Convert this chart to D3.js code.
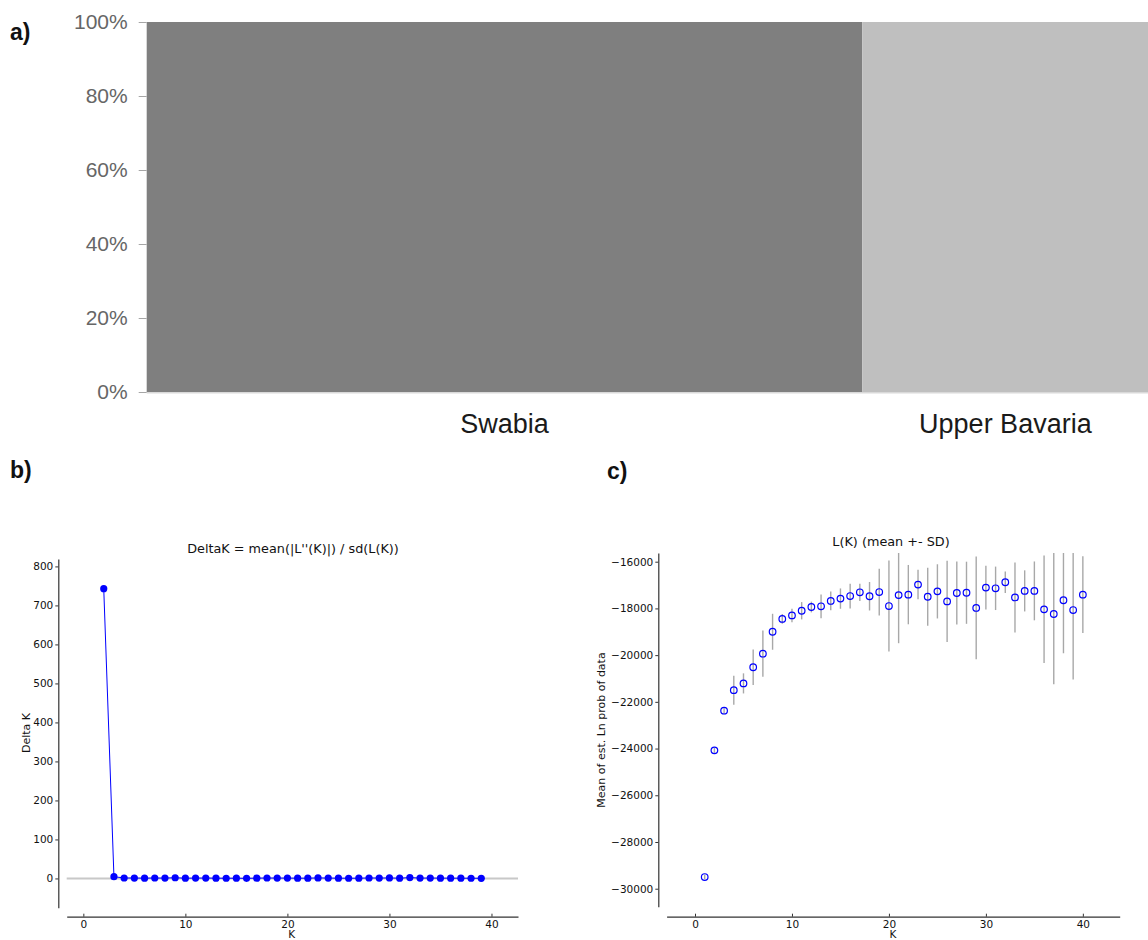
<!DOCTYPE html>
<html>
<head>
<meta charset="utf-8">
<script src="https://cdn.jsdelivr.net/npm/d3@7"></script>
<style>
  body { margin: 0; background: #fff; }
  svg { display: block; }
</style>
</head>
<body>
<div id="chart"></div>
<script>
// panel a: membership per population
const populations = ["Swabia", "Upper Bavaria"];
const sampleSizes = [50, 20];
const cluster1 = [1, 0];
const cluster2 = [0, 1];
const percentTicks = [0, 0.2, 0.4, 0.6, 0.8, 1];

// panel b: Delta K for K = 2..39
const deltaKs = d3.range(2, 40);
const deltaKValues = [743, 4.5, 1.2, 1.0, 0.8, 1.1, 0.9, 1.8, 0.6, 0.9, 1.0, 0.7, 0.5, 0.6, 0.2, 0.8, 1.1, 1.0, 0.9, 0.7,
  0.6, 1.4, 0.9, 0.7, 0.5, 0.6, 1.2, 1.0, 1.3, 0.6, 2.3, 0.9, 1.0, 0.8, 0.7, 0.6, 0.5, 0.4];

// panel c: L(K) mean and SD for K = 1..40
const lkKs = d3.range(1, 41);
const lkMeans = [-29500, -24076, -22380, -21500, -21210, -20520, -19940, -19000, -18450, -18300,
  -18100, -17940, -17910, -17680, -17580, -17470, -17310, -17480, -17300, -17900,
  -17430, -17410, -16980, -17500, -17270, -17700, -17340, -17330, -17980, -17110,
  -17140, -16880, -17530, -17250, -17250, -18040, -18240, -17650, -18070, -17410];
const lkSds = [100, 110, 150, 620, 430, 760, 990, 770, 210, 290,
  370, 230, 510, 400, 435, 530, 370, 610, 1000, 1950,
  2060, 1270, 630, 1240, 1160, 1740, 1350, 1330, 2200, 940,
  930, 460, 1500, 880, 1260, 2300, 3010, 2270, 2970, 1640];

const w = 1148;
const h = 940;
const svg = d3.select("#chart").append("svg").attr("width", w).attr("height", h);

const panelLabel = (x, y, t) =>
  svg.append("text")
    .attr("x", x).attr("y", y)
    .style("font-family", "Liberation Sans, Arial, sans-serif")
    .style("font-weight", "bold")
    .style("font-size", "23px")
    .attr("fill", "#111")
    .text(t);

panelLabel(10, 40, "a)");
panelLabel(10, 478, "b)");
panelLabel(607, 479, "c)");

// ---------- panel a ----------
const total = d3.sum(sampleSizes);
const starts = sampleSizes.map((d, i) => d3.sum(sampleSizes.slice(0, i)));
const xA = d3.scaleLinear().domain([0, total]).range([146.7, 1148.5]);
const yA = d3.scaleLinear().domain([0, 1]).range([392, 22]);
const rowsA = populations.map((p, i) => ({ pop: p, start: starts[i], n: sampleSizes[i], c1: cluster1[i], c2: cluster2[i] }));
const stackA = d3.stack().keys(["c1", "c2"])(rowsA);
const clusterColors = { c1: "#7f7f7f", c2: "#bfbfbf" };

svg.append("line")
  .attr("x1", xA(0)).attr("x2", xA(total))
  .attr("y1", yA(0) + 0.5).attr("y2", yA(0) + 0.5)
  .attr("stroke", "#d9d9d9").attr("stroke-width", 2);

svg.append("g")
  .selectAll("g")
  .data(stackA)
  .enter()
  .append("g")
  .attr("fill", (s) => clusterColors[s.key])
  .selectAll("rect")
  .data((s) => s)
  .enter()
  .append("rect")
  .attr("x", (d) => xA(d.data.start))
  .attr("width", (d) => xA(d.data.start + d.data.n) - xA(d.data.start))
  .attr("y", (d) => yA(d[1]))
  .attr("height", (d) => yA(d[0]) - yA(d[1]));

const axisA = svg.append("g")
  .attr("transform", `translate(${xA(0)},0)`)
  .call(d3.axisLeft(yA).tickValues(percentTicks).tickFormat(d3.format(".0%")).tickSize(8).tickPadding(11).tickSizeOuter(0));
axisA.select(".domain").remove();
axisA.selectAll("line").attr("stroke", "#a6a6a6");
axisA.selectAll("text")
  .style("font-family", "Liberation Sans, Arial, sans-serif")
  .style("font-size", "21px")
  .attr("fill", "#666");

svg.append("g")
  .selectAll("text")
  .data(rowsA)
  .enter()
  .append("text")
  .attr("x", (d) => xA(d.start + d.n / 2))
  .attr("y", 433)
  .attr("text-anchor", "middle")
  .style("font-family", "Liberation Sans, Arial, sans-serif")
  .style("font-size", "27px")
  .attr("fill", "#1a1a1a")
  .text((d) => d.pop);

// ---------- shared styling for b and c ----------
const mpl = "DejaVu Sans, sans-serif";
const styleAxis = (g) => {
  g.select(".domain").attr("stroke", "#333").attr("stroke-width", 1.2);
  g.selectAll("line").attr("stroke", "#333");
  g.selectAll("text").style("font-family", mpl).style("font-size", "10.5px").attr("fill", "#111");
};
const addText = (x, y, t, size, rot) =>
  svg.append("text")
    .attr("transform", `translate(${x},${y})` + (rot ? " rotate(-90)" : ""))
    .attr("text-anchor", "middle")
    .style("font-family", mpl)
    .style("font-size", size)
    .attr("fill", "#111")
    .text(t);

// ---------- panel b ----------
const xB = d3.scaleLinear().domain([-1.63, 42.6]).range([66.7, 518]);
const yB = d3.scaleLinear().domain([-75, 819]).range([907.7, 559]);

svg.append("line")
  .attr("x1", xB.range()[0]).attr("x2", xB.range()[1])
  .attr("y1", yB(0)).attr("y2", yB(0))
  .attr("stroke", "#c8c8c8").attr("stroke-width", 2);

svg.append("g")
  .attr("transform", "translate(58.3,0)")
  .call(d3.axisLeft(yB).tickValues(d3.range(0, 801, 100)).tickSize(3).tickPadding(2).tickSizeOuter(0))
  .call(styleAxis);

svg.append("g")
  .attr("transform", "translate(0,916.7)")
  .call(d3.axisBottom(xB).tickValues([0, 10, 20, 30, 40]).tickSize(-3).tickPadding(4).tickSizeOuter(0))
  .call(styleAxis);

const dkData = deltaKs.map((k, i) => ({ k: k, v: deltaKValues[i] }));
svg.append("path")
  .datum(dkData)
  .attr("fill", "none")
  .attr("stroke", "#0000ff")
  .attr("stroke-width", 1)
  .attr("d", d3.line().x((d) => xB(d.k)).y((d) => yB(d.v)));
svg.append("g")
  .selectAll("circle")
  .data(dkData)
  .enter()
  .append("circle")
  .attr("cx", (d) => xB(d.k))
  .attr("cy", (d) => yB(d.v))
  .attr("r", 3.6)
  .attr("fill", "#0000ff");

addText(293, 553, "DeltaK = mean(|L''(K)|) / sd(L(K))", "12.8px", false);
addText(30, 733, "Delta K", "11px", true);
addText(291.7, 938, "K", "10.5px", false);

// ---------- panel c ----------
const xC = d3.scaleLinear().domain([-2.93, 43.8]).range([666.6, 1119.7]);
const yC = d3.scaleLinear().domain([-30770, -15628]).range([906.7, 553]);

svg.append("g")
  .attr("transform", "translate(658.3,0)")
  .call(d3.axisLeft(yC).tickValues(d3.range(-30000, -15999, 2000)).tickFormat(d3.format("d")).tickSize(3).tickPadding(2).tickSizeOuter(0))
  .call(styleAxis);

svg.append("g")
  .attr("transform", "translate(0,916.7)")
  .call(d3.axisBottom(xC).tickValues([0, 10, 20, 30, 40]).tickSize(-3).tickPadding(4).tickSizeOuter(0))
  .call(styleAxis);

const lkData = lkKs.map((k, i) => ({ k: k, m: lkMeans[i], sd: lkSds[i] }));
const yTop = yC.domain()[1];
svg.append("g")
  .selectAll("line")
  .data(lkData)
  .enter()
  .append("line")
  .attr("x1", (d) => xC(d.k)).attr("x2", (d) => xC(d.k))
  .attr("y1", (d) => yC(Math.min(d.m + d.sd, yTop)))
  .attr("y2", (d) => yC(d.m - d.sd))
  .attr("stroke", "#a8a8a8")
  .attr("stroke-width", 1.4);
svg.append("g")
  .selectAll("circle")
  .data(lkData)
  .enter()
  .append("circle")
  .attr("cx", (d) => xC(d.k))
  .attr("cy", (d) => yC(d.m))
  .attr("r", 3.3)
  .attr("fill", "none")
  .attr("stroke", "#0000ff")
  .attr("stroke-width", 1.2);

addText(891, 546, "L(K) (mean +- SD)", "12.8px", false);
addText(605, 730, "Mean of est. Ln prob of data", "11px", true);
addText(893, 938, "K", "10.5px", false);
</script>
</body>
</html>
